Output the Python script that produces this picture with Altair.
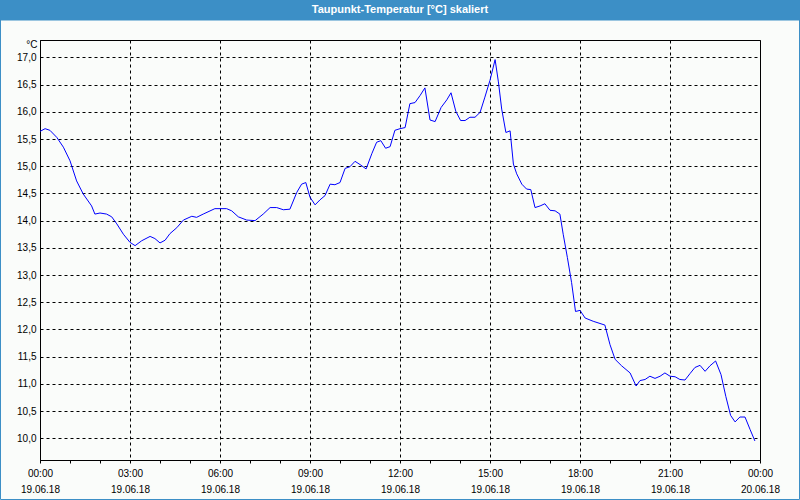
import altair as alt
import pandas as pd

# time in hours after 19.06.18 00:00, dew point in °C
hours = [0.00, 0.17, 0.33, 0.56, 0.78, 1.00, 1.22, 1.44, 1.72, 1.83, 2.00, 2.22, 2.39, 2.56, 2.78,
         3.00, 3.17, 3.39, 3.67, 3.83, 4.00, 4.17, 4.33, 4.56, 4.78, 5.06, 5.22, 5.44, 5.83, 6.22,
         6.39, 6.61, 6.89, 7.17, 7.44, 7.67, 7.89, 8.11, 8.33, 8.56, 8.72, 8.86, 9.00, 9.17, 9.33,
         9.50, 9.67, 9.83, 10.00, 10.17, 10.33, 10.50, 10.67, 10.87, 11.06, 11.22, 11.36, 11.52,
         11.67, 11.83, 12.00, 12.17, 12.33, 12.50, 12.67, 12.83, 13.00, 13.17, 13.37, 13.56, 13.70,
         13.86, 14.02, 14.17, 14.33, 14.50, 14.67, 14.83, 15.00, 15.17, 15.28, 15.39, 15.53, 15.67,
         15.78, 15.89, 16.06, 16.22, 16.36, 16.50, 16.67, 16.83, 17.00, 17.17, 17.33, 17.44, 17.58,
         17.72, 17.85, 18.00, 18.17, 18.44, 18.83, 19.00, 19.17, 19.39, 19.67, 19.87, 20.00, 20.17,
         20.33, 20.50, 20.67, 20.83, 21.00, 21.17, 21.33, 21.50, 21.67, 21.83, 22.00, 22.17, 22.33,
         22.52, 22.70, 22.86, 23.02, 23.17, 23.33, 23.50, 23.67, 23.83]
dewpoint = [15.64, 15.69, 15.66, 15.53, 15.35, 15.10, 14.73, 14.49, 14.27, 14.12, 14.14, 14.12, 14.07,
            13.94, 13.75, 13.60, 13.54, 13.63, 13.71, 13.67, 13.59, 13.64, 13.76, 13.87, 14.01, 14.08,
            14.06, 14.12, 14.22, 14.22, 14.18, 14.07, 14.01, 14.00, 14.12, 14.24, 14.24, 14.20, 14.21,
            14.52, 14.67, 14.70, 14.43, 14.29, 14.38, 14.46, 14.67, 14.66, 14.70, 14.96, 14.99, 15.09,
            15.03, 14.95, 15.23, 15.44, 15.47, 15.33, 15.36, 15.66, 15.69, 15.71, 16.15, 16.17, 16.30,
            16.44, 15.85, 15.82, 16.08, 16.22, 16.35, 16.01, 15.84, 15.84, 15.90, 15.90, 15.99, 16.27,
            16.58, 16.96, 16.55, 16.05, 15.62, 15.65, 15.04, 14.86, 14.67, 14.58, 14.57, 14.24, 14.27,
            14.31, 14.19, 14.18, 14.12, 13.75, 13.32, 12.86, 12.33, 12.35, 12.21, 12.15, 12.08, 11.72,
            11.45, 11.33, 11.20, 10.96, 11.06, 11.08, 11.14, 11.10, 11.14, 11.20, 11.14, 11.13, 11.08,
            11.07, 11.19, 11.30, 11.34, 11.23, 11.33, 11.42, 11.17, 10.77, 10.42, 10.30, 10.39, 10.39,
            10.16, 9.95]

x_ticks = list(range(0, 25))
y_ticks = [10.0, 10.5, 11.0, 11.5, 12.0, 12.5, 13.0, 13.5, 14.0, 14.5, 15.0, 15.5, 16.0, 16.5, 17.0]

df = pd.DataFrame({"h": hours, "v": dewpoint})

FONT = "Liberation Sans"
BLUE = "#3c8fc6"

x_label_expr = (
    "datum.value % 3 == 0 ? [(datum.value == 24 ? '00' : (datum.value < 10 ? '0' : '') + datum.value) + ':00',"
    " datum.value == 24 ? '20.06.18' : '19.06.18'] : ''"
)

line = alt.Chart(df).mark_line(color="#0000ff", strokeWidth=1, interpolate="linear").encode(
    x=alt.X("h:Q", scale=alt.Scale(domain=[0, 24], nice=False, zero=False),
            axis=alt.Axis(values=x_ticks, labelExpr=x_label_expr, title=None,
                          grid=True, gridColor="black", gridDash=[3, 3],
                          gridOpacity={"condition": {"test": "datum.value % 3 == 0", "value": 1}, "value": 0},
                          tickSize=3, tickColor="black", domainColor="black",
                          labelPadding=5, labelBaseline="top", labelLineHeight=16,
                          labelFont=FONT, labelFontSize=10, labelColor="black",
                          labelOverlap=False, labelFlush=False)),
    y=alt.Y("v:Q", scale=alt.Scale(domain=[9.6, 17.32], nice=False, zero=False),
            axis=alt.Axis(values=y_ticks,
                          labelExpr="replace(format(datum.value, '.1f'), '.', ',')",
                          title="°C", titleAngle=0, titleAlign="right", titleBaseline="middle",
                          titleX=-3, titleY=4, titleFont=FONT, titleFontSize=10,
                          titleFontWeight="normal", titleColor="black",
                          grid=True, gridColor="black", gridDash=[3, 3],
                          tickSize=0, domainColor="black",
                          labelPadding=4, labelFont=FONT, labelFontSize=10, labelColor="black",
                          labelOverlap=False, labelFlush=False)),
)

band = alt.Chart(alt.Data(values=[{"a": 1}])).mark_rect(fill=BLUE).encode(
    x=alt.value(-40), x2=alt.value(760), y=alt.value(-40), y2=alt.value(-20)
)
frame = alt.Chart(alt.Data(values=[{"a": 1}])).mark_rect(fill=None, stroke=BLUE, strokeWidth=1).encode(
    x=alt.value(-39.5), x2=alt.value(759.5), y=alt.value(-20), y2=alt.value(459.5)
)

chart = alt.layer(band, frame, line).properties(
    width=720, height=420,
    title=alt.TitleParams("Taupunkt-Temperatur [°C] skaliert", color="white", font=FONT,
                          fontSize=11, fontWeight="bold", anchor="middle", baseline="middle",
                          offset=-21),
    padding={"left": 40, "top": 40, "right": 40, "bottom": 40},
    autosize=alt.AutoSizeParams(type="none"),
    background="#fafcfa",
).configure_view(stroke="black", strokeWidth=1)

chart.save("out.html", embed_options={"renderer": "svg", "actions": False})
